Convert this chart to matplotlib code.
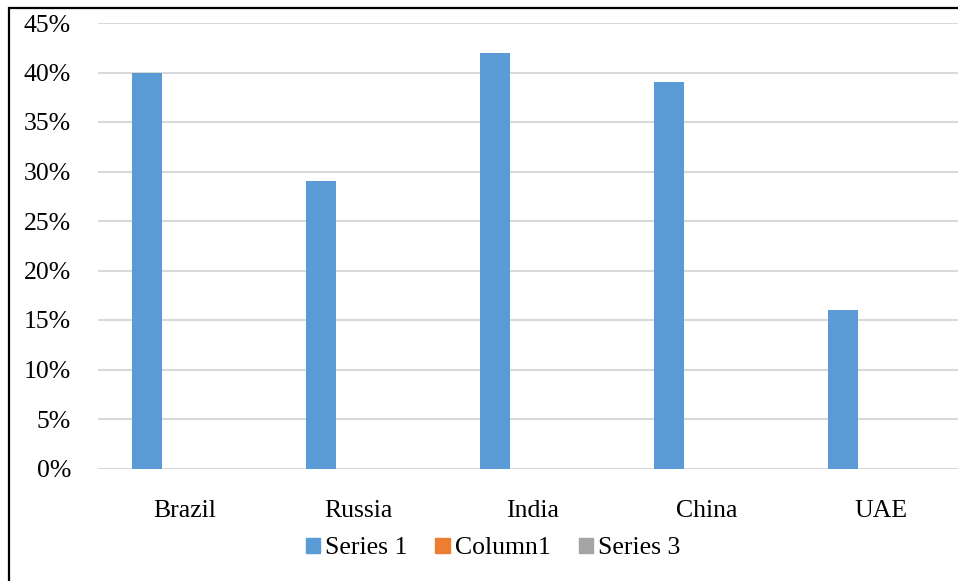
import matplotlib
matplotlib.use("Agg")
import matplotlib.pyplot as plt
from matplotlib.patches import Rectangle
from matplotlib.ticker import PercentFormatter
import numpy as np

categories = ["Brazil", "Russia", "India", "China", "UAE"]
series_1 = [40, 29, 42, 39, 16]
column_1 = [0, 0, 0, 0, 0]
series_3 = [0, 0, 0, 0, 0]
series_names = ["Series 1", "Column1", "Series 3"]
colors = ["#5B9BD5", "#ED7D31", "#A5A5A5"]

plt.rcParams["font.family"] = ["Liberation Serif", "DejaVu Serif"]

W, H = 958, 581
fig = plt.figure(figsize=(W / 100, H / 100), dpi=100)

# plot area in pixels: left 97.5, top 23, bottom 468.5, right cut off at image edge
left, top, bottom, right = 97.5, 23, 468.5, 958
ax = fig.add_axes([left / W, 1 - bottom / H, (right - left) / W, (bottom - top) / H])

x = np.arange(len(categories))
bw = 0.172
step = 0.215
for k, (vals, name, c) in enumerate(zip([series_1, column_1, series_3], series_names, colors)):
    ax.bar(x + (k - 1) * step, vals, width=bw, color=c, label=name, zorder=3)

ax.set_xlim(-0.5, -0.5 + (right - left) / 174)
ax.set_ylim(0, 45)
ax.set_yticks(range(0, 46, 5))
ax.yaxis.set_major_formatter(PercentFormatter(decimals=0))
ax.set_xticks(x)
ax.set_xticklabels(categories)
ax.tick_params(axis="y", length=0, pad=19, labelsize=18.5)
ax.tick_params(axis="x", length=0, pad=23, labelsize=18.5)
ax.grid(axis="y", color="#D9D9D9", linewidth=1.5, zorder=0)
for s in ax.spines.values():
    s.set_visible(False)

handles = [Rectangle((0, 0), 1, 1, color=c) for c in colors]
fig.legend(handles, series_names, loc="center", bbox_to_anchor=(493 / W, 1 - 548.5 / H),
           ncol=3, frameon=False, fontsize=18.5, handlelength=0.55, handleheight=0.55,
           handletextpad=0.2, columnspacing=1.1, borderpad=0)

# outer border of the chart
fig.patches.append(Rectangle((8.5 / W, -0.05), 1.2, 1 - 8 / H + 0.05, transform=fig.transFigure,
                             fill=False, edgecolor="black", linewidth=1.6))

fig.savefig("out.png", dpi=100)
